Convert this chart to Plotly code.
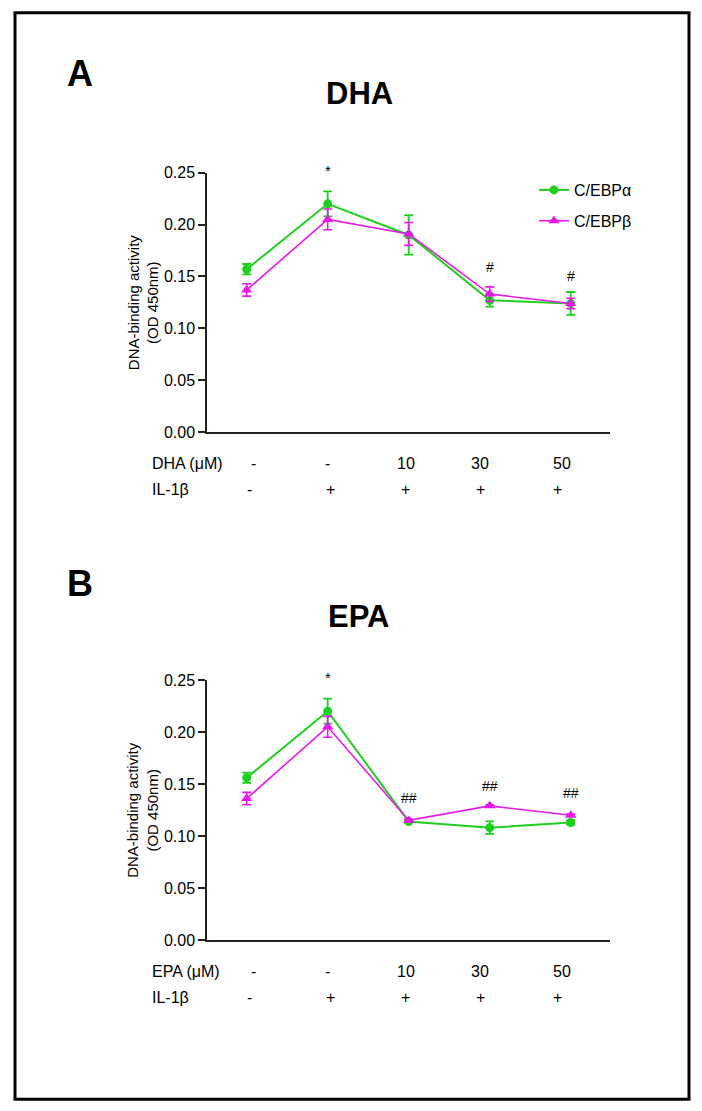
import plotly.graph_objects as go

W, H = 702, 1111

# ---------------- data ----------------
conditions = ["ctrl", "IL-1b", "10", "30", "50"]
xpos = [0, 1, 2, 3, 4]

dha_alpha = [0.157, 0.220, 0.190, 0.127, 0.124]
dha_alpha_err = [0.005, 0.012, 0.019, 0.006, 0.011]
dha_beta = [0.137, 0.205, 0.191, 0.133, 0.124]
dha_beta_err = [0.006, 0.010, 0.011, 0.007, 0.005]

epa_alpha = [0.156, 0.220, 0.114, 0.108, 0.113]
epa_alpha_err = [0.005, 0.012, 0.001, 0.006, 0.002]
epa_beta = [0.136, 0.205, 0.115, 0.129, 0.120]
epa_beta_err = [0.006, 0.010, 0.001, 0.001, 0.001]

dose_labels = ["-", "-", "10", "30", "50"]
il1b_labels = ["-", "+", "+", "+", "+"]

dha_marks = ["*", "#", "#"]
dha_mark_x = [1, 3, 4]
dha_mark_y = [0.252, 0.159, 0.150]
epa_marks = ["*", "##", "##", "##"]
epa_mark_x = [1, 2, 3, 4]
epa_mark_y = [0.252, 0.1365, 0.148, 0.141]

yticks = [0.00, 0.05, 0.10, 0.15, 0.20, 0.25]
YMAX = 0.25

GREEN = "#1fcf1f"
MAGENTA = "#e619e6"
FONT = "Liberation Sans, Arial, sans-serif"

# vertical layout correction (layout only)
VOFF, VSCALE = 8.2, 0.9834


def py(p):
    return 1 - ((p - VOFF) / VSCALE) / H


def px(p):
    return p / W


fig = go.Figure()

panels = [
    dict(xa="x", ya="y", alpha=dha_alpha, aerr=dha_alpha_err, beta=dha_beta, berr=dha_beta_err, legend=True),
    dict(xa="x2", ya="y2", alpha=epa_alpha, aerr=epa_alpha_err, beta=epa_beta, berr=epa_beta_err, legend=False),
]

for p in panels:
    fig.add_trace(go.Scatter(
        x=xpos, y=p["alpha"], xaxis=p["xa"], yaxis=p["ya"],
        mode="lines+markers", name="C/EBPα", legendgroup="a",
        showlegend=p["legend"],
        line=dict(color=GREEN, width=2),
        marker=dict(symbol="circle", size=9, color=GREEN),
        error_y=dict(type="data", array=p["aerr"], visible=True, color=GREEN, thickness=1.8, width=4.5),
    ))
    fig.add_trace(go.Scatter(
        x=xpos, y=p["beta"], xaxis=p["xa"], yaxis=p["ya"],
        mode="lines+markers", name="C/EBPβ", legendgroup="b",
        showlegend=p["legend"],
        line=dict(color=MAGENTA, width=1.6),
        marker=dict(symbol="triangle-up", size=10, color=MAGENTA),
        error_y=dict(type="data", array=p["berr"], visible=True, color=MAGENTA, thickness=1.6, width=4.5),
    ))

xl, xr = px(207), px(610)
xrange = [-0.49, 4.485]
dom_a = [py(431.7), py(172.7)]
dom_b = [py(939), py(679.3)]

axis_common = dict(showline=True, linecolor="#222", linewidth=1.5, showgrid=False, zeroline=False)

fig.update_layout(
    width=W, height=H,
    margin=dict(l=0, r=0, t=0, b=0),
    paper_bgcolor="white", plot_bgcolor="white",
    font=dict(family=FONT, color="black", size=15),
    xaxis=dict(domain=[xl, xr], range=xrange, showticklabels=False, ticks="", anchor="y", **axis_common),
    yaxis=dict(domain=dom_a, range=[0, YMAX], tickvals=yticks, tickformat=".2f", ticks="outside",
               ticklen=7, tickwidth=1.5, tickcolor="#222", tickfont=dict(size=16), anchor="x", **axis_common),
    xaxis2=dict(domain=[xl, xr], range=xrange, showticklabels=False, ticks="", anchor="y2", **axis_common),
    yaxis2=dict(domain=dom_b, range=[0, YMAX], tickvals=yticks, tickformat=".2f", ticks="outside",
                ticklen=7, tickwidth=1.5, tickcolor="#222", tickfont=dict(size=16), anchor="x2", **axis_common),
    legend=dict(x=px(534), y=py(173), xanchor="left", yanchor="top", font=dict(size=16),
                tracegroupgap=7, bgcolor="rgba(0,0,0,0)", itemwidth=30),
    showlegend=True,
)

ann = []
# panel letters and titles
ann.append(dict(text="<b>A</b>", x=px(80), y=py(74), xref="paper", yref="paper", showarrow=False,
                font=dict(size=36), xanchor="center", yanchor="middle"))
ann.append(dict(text="<b>DHA</b>", x=px(359), y=py(94), xref="paper", yref="paper", showarrow=False,
                font=dict(size=31), xanchor="center", yanchor="middle"))
ann.append(dict(text="<b>B</b>", x=px(80), y=py(583), xref="paper", yref="paper", showarrow=False,
                font=dict(size=36), xanchor="center", yanchor="middle"))
ann.append(dict(text="<b>EPA</b>", x=px(358.5), y=py(615.7), xref="paper", yref="paper", showarrow=False,
                font=dict(size=31), xanchor="center", yanchor="middle"))

# y axis titles
for yc in [302, 809]:
    ann.append(dict(text="DNA-binding activity<br>(OD 450nm)", x=px(143), y=py(yc), xref="paper", yref="paper",
                    showarrow=False, textangle=-90, font=dict(size=15), xanchor="center", yanchor="middle"))

# significance marks (axis-domain refs so marks above the range stay visible)
for t, xx, yy in zip(dha_marks, dha_mark_x, dha_mark_y):
    ann.append(dict(text=t, x=xx, y=yy / YMAX, xref="x", yref="y domain", showarrow=False,
                    font=dict(size=15 if t == "*" else 14), xanchor="center", yanchor="middle"))
for t, xx, yy in zip(epa_marks, epa_mark_x, epa_mark_y):
    ann.append(dict(text=t, x=xx, y=yy / YMAX, xref="x2", yref="y2 domain", showarrow=False,
                    font=dict(size=15 if t == "*" else 14), xanchor="center", yanchor="middle"))

# treatment rows
dose_shift = [7, 0, -3, -10, -9]
il_shift = [3, 3, -3, -9, -13]
for xa, name, row1, row2 in [("x", "DHA (μM)", 463, 489), ("x2", "EPA (μM)", 970, 996)]:
    ann.append(dict(text=name, x=px(150), y=py(row1), xref="paper", yref="paper", showarrow=False,
                    font=dict(size=16), xanchor="left", yanchor="middle"))
    ann.append(dict(text="IL-1β", x=px(150), y=py(row2), xref="paper", yref="paper", showarrow=False,
                    font=dict(size=16), xanchor="left", yanchor="middle"))
    for i, (d, il) in enumerate(zip(dose_labels, il1b_labels)):
        ann.append(dict(text=d, x=xpos[i], y=py(row1), xref=xa, yref="paper", showarrow=False,
                        font=dict(size=16), xanchor="center", yanchor="middle", xshift=dose_shift[i]))
        ann.append(dict(text=il, x=xpos[i], y=py(row2), xref=xa, yref="paper", showarrow=False,
                        font=dict(size=16), xanchor="center", yanchor="middle", xshift=il_shift[i]))

fig.update_layout(annotations=ann)

fig.add_shape(type="rect", xref="paper", yref="paper", x0=px(15), x1=px(689), y0=py(13), y1=py(1098),
              line=dict(color="black", width=3), fillcolor="rgba(0,0,0,0)")

fig.write_html(
    "out.html",
    config={"displayModeBar": False},
    post_script="document.body.style.margin='0';document.body.style.overflow='hidden';"
                "document.documentElement.style.overflow='hidden';",
)
